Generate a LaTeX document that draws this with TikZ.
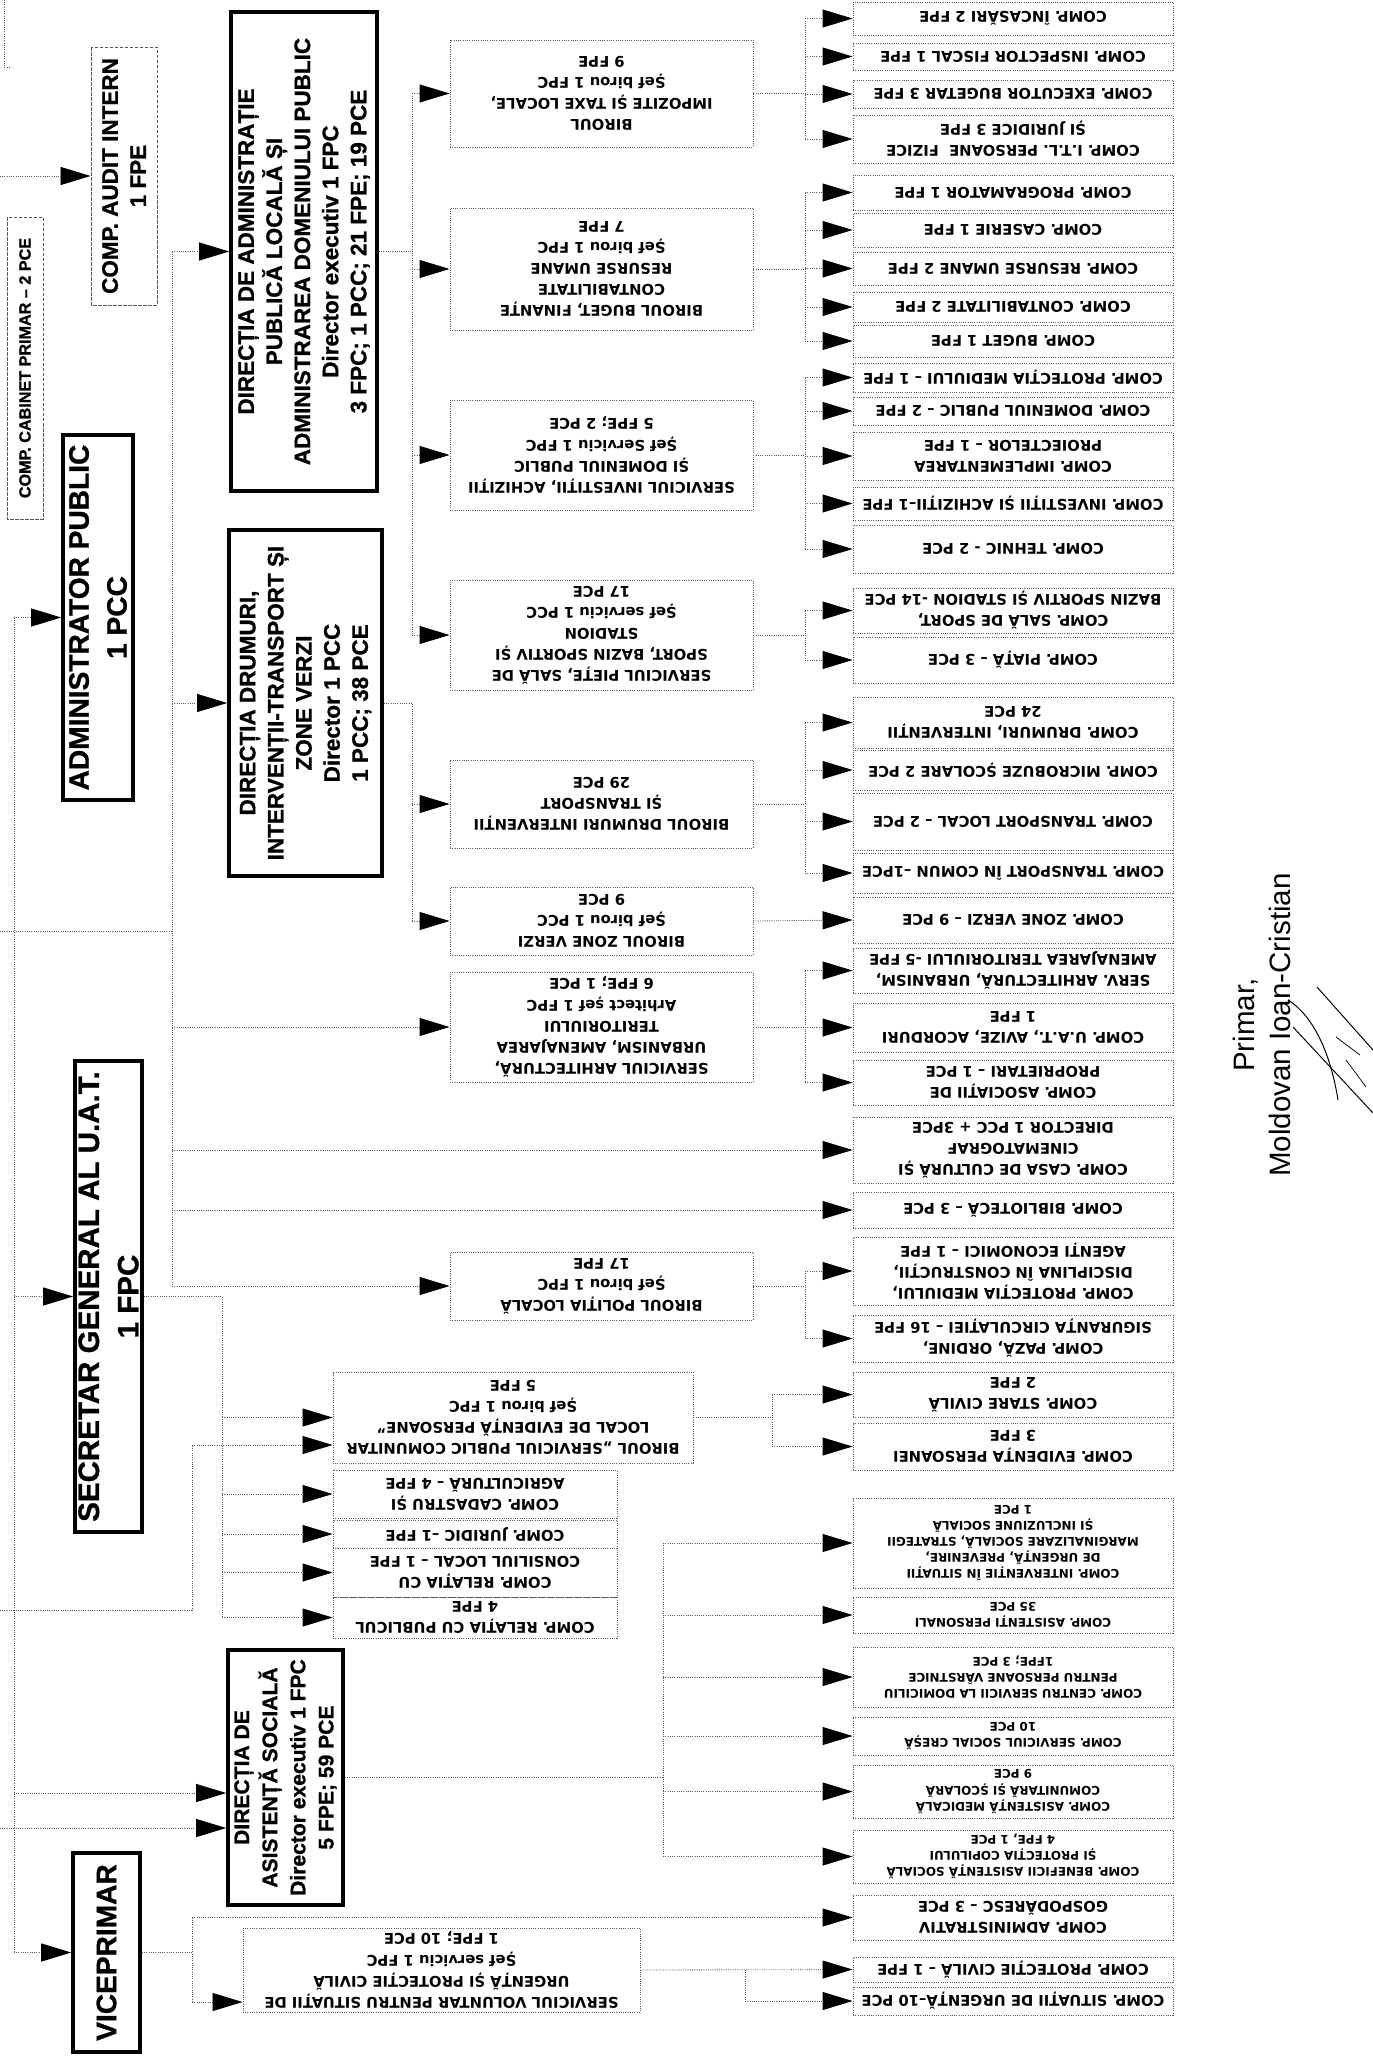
\documentclass[tikz,border=0pt]{standalone}
\usepackage{fontspec}
\setmainfont{Liberation Sans}
\newfontfamily\dejavu{DejaVu Sans}
\newfontfamily\heavy{Liberation Sans Bold}[FakeBold=1]
\usetikzlibrary{arrows.meta,positioning}

\begin{document}
\begin{tikzpicture}[x=0.25mm, y=-0.25mm,
    link/.style={densely dotted, line width=0.6pt, black!65},
    arr/.style={link, -{Triangle[length=7.5mm, width=4.5mm, color=black]}},
    comp/.style={draw=black!65, densely dotted, line width=0.6pt, rotate=180, align=center, inner sep=1pt,
        font=\dejavu\bfseries\fontsize{10.5}{15}\selectfont},
    social/.style={comp, font=\dejavu\bfseries\fontsize{8.5}{11.5}\selectfont},
    head/.style={draw, line width=0.9mm, rotate=90, align=center, inner sep=2pt,
        font=\heavy\fontsize{16}{20}\selectfont},
    big/.style={head, font=\heavy\fontsize{20}{27}\selectfont},
    dhead/.style={head, draw=black!65, densely dotted, line width=0.6pt}]
    \useasboundingbox (0,0) rectangle (1373,2060);

    % Left column: top level boxes
    \node[dhead, minimum width=64.5mm, minimum height=16.5mm] (audit) at (124,176) {COMP. AUDIT INTERN\\1 FPE};
    \node[dhead, font=\heavy\fontsize{11.5}{13}\selectfont, minimum width=75.5mm, minimum height=9mm] (cabinet) at (25,368) {COMP. CABINET PRIMAR – 2 PCE};
    \node[big, minimum width=91.25mm, minimum height=17.5mm] (admin) at (98,617.5) {ADMINISTRATOR PUBLIC\\1 PCC};
    \node[big, font=\heavy\fontsize{21}{28}\selectfont, minimum width=117.75mm, minimum height=16.75mm] (secretar) at (108.5,1296.5) {SECRETAR GENERAL AL U.A.T.\\1 FPC};
    \node[big, minimum width=49.75mm, minimum height=16.75mm] (viceprimar) at (106.5,1952.5) {VICEPRIMAR};

    % Directions
    \node[head, minimum width=119.75mm, minimum height=36.5mm] (diradmin) at (304,251.5) {DIRECȚIA DE ADMINISTRAȚIE\\PUBLICĂ LOCALĂ ȘI\\ADMINISTRAREA DOMENIULUI PUBLIC\\Director executiv 1 FPC\\3 FPC; 1 PCC; 21 FPE; 19 PCE};
    \node[head, minimum width=86.5mm, minimum height=38.25mm] (dirdrumuri) at (305.5,703) {DIRECȚIA DRUMURI,\\INTERVENȚII-TRANSPORT ȘI\\ZONE VERZI\\Director 1 PCC\\1 PCC; 38 PCE};
    \node[head, font=\heavy\fontsize{15}{20}\selectfont, minimum width=63.75mm, minimum height=28.75mm] (dirasist) at (285.5,1777.5) {DIRECȚIA DE\\ASISTENȚĂ SOCIALĂ\\Director executiv 1 FPC\\5 FPE; 59 PCE};

    % Middle column: birouri and servicii
    \node[comp, minimum width=75.75mm, minimum height=26.75mm] (birimpozite) at (601.5,93.5) {BIROUL\\IMPOZITE ȘI TAXE LOCALE,\\Șef birou 1 FPC\\9 FPE};
    \node[comp, minimum width=75.75mm, minimum height=30.5mm] (birbuget) at (601.5,269) {BIROUL BUGET, FINANȚE\\CONTABILITATE\\RESURSE UMANE\\Șef birou 1 FPC\\7 FPE};
    \node[comp, minimum width=75.75mm, minimum height=27.5mm] (servinvest) at (601.5,455) {SERVICIUL INVESTIȚII, ACHIZIȚII\\ȘI DOMENIUL PUBLIC\\Șef Serviciu 1 FPC\\5 FPE; 2 PCE};
    \node[comp, minimum width=75.75mm, minimum height=27.5mm] (servpiete) at (601.5,635) {SERVICIUL PIEȚE, SALĂ DE\\SPORT, BAZIN SPORTIV ȘI\\STADION\\Șef serviciu 1 PCC\\17 PCE};
    \node[comp, minimum width=75.75mm, minimum height=22mm] (birdrumuri) at (601.5,804) {BIROUL DRUMURI INTERVENȚII\\ȘI TRANSPORT\\29 PCE};
    \node[comp, minimum width=75.75mm, minimum height=17mm] (birverzi) at (601.5,921) {BIROUL ZONE VERZI\\Șef birou 1 PCC\\9 PCE};
    \node[comp, minimum width=75.75mm, minimum height=27.5mm] (servarhitect) at (601.5,1027) {SERVICIUL ARHITECTURĂ,\\URBANISM, AMENAJAREA\\TERITORIULUI\\Arhitect șef 1 FPC\\6 FPE; 1 PCE};
    \node[comp, minimum width=75.75mm, minimum height=17mm] (birpolitie) at (601.5,1286) {BIROUL POLIȚIA LOCALĂ\\Șef birou 1 FPC\\17 FPE};
    \node[comp, minimum width=90mm, minimum height=22.75mm] (birspc) at (513,1417.5) {BIROUL „SERVICIUL PUBLIC COMUNITAR\\LOCAL DE EVIDENȚĂ PERSOANE”\\Șef birou 1 FPC\\5 FPE};
    \node[comp, minimum width=71mm, minimum height=12mm] (cadastru) at (475,1494) {COMP. CADASTRU ȘI\\AGRICULTURĂ – 4 FPE};
    \node[comp, minimum width=71mm, minimum height=7mm] (juridic) at (475,1534) {COMP. JURIDIC –1 FPE};
    \node[comp, minimum width=71mm, minimum height=12.25mm] (relconsiliu) at (475,1572.5) {COMP. RELAȚIA CU\\CONSILIUL LOCAL – 1 FPE};
    \node[comp, minimum width=71mm, minimum height=10.25mm] (relpublic) at (475,1617.5) {COMP. RELAȚIA CU PUBLICUL\\4 FPE};
    \node[comp, minimum width=99.25mm, minimum height=21mm] (servvoluntar) at (441.5,1970) {SERVICIUL VOLUNTAR PENTRU SITUAȚII DE\\URGENȚĂ ȘI PROTECȚIE CIVILĂ\\Șef serviciu 1 FPC\\1 FPE; 10 PCE};

    % Right column: compartimente
    \node[comp, minimum width=80mm, minimum height=8.25mm] (incasari) at (1013,18.5) {COMP. ÎNCASĂRI 2 FPE};
    \node[comp, minimum width=80mm, minimum height=6.75mm] (fiscal) at (1013,56.5) {COMP. INSPECTOR FISCAL 1 FPE};
    \node[comp, minimum width=80mm, minimum height=7mm] (executor) at (1013,94) {COMP. EXECUTOR BUGETAR 3 FPE};
    \node[comp, minimum width=80mm, minimum height=12mm] (itl) at (1013,139) {COMP. I.T.L. PERSOANE\ \ FIZICE\\ȘI JURIDICE 3 FPE};
    \node[comp, minimum width=80mm, minimum height=8.75mm] (programator) at (1013,192.5) {COMP. PROGRAMATOR 1 FPE};
    \node[comp, minimum width=80mm, minimum height=8.5mm] (caserie) at (1013,230) {COMP. CASERIE 1 FPE};
    \node[comp, minimum width=80mm, minimum height=8.25mm] (resurse) at (1013,268.5) {COMP. RESURSE UMANE 2 FPE};
    \node[comp, minimum width=80mm, minimum height=7.5mm] (contab) at (1013,307) {COMP. CONTABILITATE 2 FPE};
    \node[comp, minimum width=80mm, minimum height=8mm] (buget) at (1013,341) {COMP. BUGET 1 FPE};
    \node[comp, minimum width=80mm, minimum height=7.25mm] (mediu) at (1013,377.5) {COMP. PROTECȚIA MEDIULUI – 1 FPE};
    \node[comp, minimum width=80mm, minimum height=7mm] (domeniu) at (1013,411) {COMP. DOMENIUL PUBLIC – 2 FPE};
    \node[comp, minimum width=80mm, minimum height=12mm] (implement) at (1013,456) {COMP. IMPLEMENTAREA\\PROIECTELOR – 1 FPE};
    \node[comp, minimum width=80mm, minimum height=8.25mm] (investitii) at (1013,503.5) {COMP. INVESTIȚII ȘI ACHIZIȚII–1 FPE};
    \node[comp, minimum width=80mm, minimum height=12mm] (tehnic) at (1013,549) {COMP. TEHNIC - 2 PCE};
    \node[comp, minimum width=80mm, minimum height=11.25mm] (sport) at (1013,610.5) {COMP. SALĂ DE SPORT,\\BAZIN SPORTIV ȘI STADION -14 PCE};
    \node[comp, minimum width=80mm, minimum height=11.5mm] (piata) at (1013,660) {COMP. PIAȚĂ – 3 PCE};
    \node[comp, minimum width=80mm, minimum height=12.75mm] (drumuri) at (1013,722.5) {COMP. DRUMURI, INTERVENȚII\\24 PCE};
    \node[comp, minimum width=80mm, minimum height=10mm] (microbuze) at (1013,770) {COMP. MICROBUZE ȘCOLARE 2 PCE};
    \node[comp, minimum width=80mm, minimum height=14.25mm] (translocal) at (1013,821.5) {COMP. TRANSPORT LOCAL – 2 PCE};
    \node[comp, minimum width=80mm, minimum height=10mm] (transcomun) at (1013,873) {COMP. TRANSPORT ÎN COMUN –1PCE};
    \node[comp, minimum width=80mm, minimum height=11.5mm] (verzi) at (1013,920) {COMP. ZONE VERZI – 9 PCE};
    \node[comp, minimum width=80mm, minimum height=11.25mm] (arhitect) at (1013,970.5) {SERV. ARHITECTURĂ, URBANISM,\\AMENAJAREA TERITORIULUI -5 FPE};
    \node[comp, minimum width=80mm, minimum height=12.25mm] (avize) at (1013,1027.5) {COMP. U.A.T., AVIZE, ACORDURI\\1 FPE};
    \node[comp, minimum width=80mm, minimum height=11.25mm] (asociatii) at (1013,1082.5) {COMP. ASOCIAȚII DE\\PROPRIETARI – 1 PCE};
    \node[comp, minimum width=80mm, minimum height=16.5mm] (cultura) at (1013,1150) {COMP. CASA DE CULTURĂ ȘI\\CINEMATOGRAF\\DIRECTOR 1 PCC + 3PCE};
    \node[comp, minimum width=80mm, minimum height=9mm] (biblioteca) at (1013,1210) {COMP. BIBLIOTECĂ – 3 PCE};
    \node[comp, minimum width=80mm, minimum height=17mm] (disciplina) at (1013,1271) {COMP. PROTECȚIA MEDIULUI,\\DISCIPLINA ÎN CONSTRUCȚII,\\AGENȚI ECONOMICI – 1 FPE};
    \node[comp, minimum width=80mm, minimum height=11.75mm] (paza) at (1013,1338.5) {COMP. PAZĂ, ORDINE,\\SIGURANȚA CIRCULAȚIEI – 16 FPE};
    \node[comp, minimum width=80mm, minimum height=11.25mm] (starecivila) at (1013,1394.5) {COMP. STARE CIVILĂ\\2 FPE};
    \node[comp, minimum width=80mm, minimum height=11.75mm] (evidenta) at (1013,1446.5) {COMP. EVIDENȚA PERSOANEI\\3 FPE};
    \node[social, minimum width=80mm, minimum height=22.5mm] (interventie) at (1013,1543) {COMP. INTERVENȚIE ÎN SITUAȚII\\DE URGENȚĂ, PREVENIRE,\\MARGINALIZARE SOCIALĂ, STRATEGII\\ȘI INCLUZIUNE SOCIALĂ\\1 PCE};
    \node[social, minimum width=80mm, minimum height=9mm] (asistenti) at (1013,1615) {COMP. ASISTENȚI PERSONALI\\35 PCE};
    \node[social, minimum width=80mm, minimum height=15mm] (varstnici) at (1013,1677) {COMP. CENTRU SERVICII LA DOMICILIU\\PENTRU PERSOANE VÂRSTNICE\\1FPE; 3 PCE};
    \node[social, minimum width=80mm, minimum height=9.5mm] (cresa) at (1013,1736) {COMP. SERVICIUL SOCIAL CREȘĂ\\10 PCE};
    \node[social, minimum width=80mm, minimum height=13.25mm] (medicala) at (1013,1791.5) {COMP. ASISTENȚĂ MEDICALĂ\\COMUNITARĂ ȘI ȘCOLARĂ\\9 PCE};
    \node[social, minimum width=80mm, minimum height=13.25mm] (beneficii) at (1013,1856.5) {COMP. BENEFICII ASISTENȚĂ SOCIALĂ\\ȘI PROTECȚIA COPILULUI\\4 FPE, 1 PCE};
    \node[comp, minimum width=80mm, minimum height=11.25mm] (gospodaresc) at (1013,1917.5) {COMP. ADMINISTRATIV\\GOSPODĂRESC – 3 PCE};
    \node[comp, minimum width=80mm, minimum height=6.25mm] (protcivila) at (1013,1969.5) {COMP. PROTECȚIE CIVILĂ – 1 FPE};
    \node[comp, minimum width=80mm, minimum height=7mm] (urgenta) at (1013,2001) {COMP. SITUAȚII DE URGENȚĂ–10 PCE};

    % Entry points and junctions
    \coordinate (incabinet) at (4,0);
    \coordinate (kcabinet) at (4,67);
    \coordinate (inprimar) at (0,931);
    \coordinate (spine) at (172,931);
    \coordinate (trunk) at (14,931);
    \coordinate (inaudit) at (0,176);
    \coordinate (inspc) at (0,1610);
    \coordinate (kspc) at (192,1445);
    \coordinate (asist1) at (14,1793);
    \coordinate (inasist) at (0,1828);

    % Lines from the primar
    \draw[link] (incabinet) -- (kcabinet) -- ++(6,0);
    \draw[link] (inprimar) -- (spine);
    \draw[arr] (inaudit) -- (audit.north);
    \draw[link] (trunk |- admin.north) -- (trunk |- viceprimar.north);
    \draw[arr] (trunk |- admin.north) -- (admin.north);
    \draw[arr] (trunk |- secretar.north) -- (secretar.north);
    \draw[arr] (asist1) -- (asist1 -| dirasist.north);
    \draw[arr] (inasist) -- (inasist -| dirasist.north);
    \draw[arr] (trunk |- viceprimar.north) -- (viceprimar.north);

    % Spine towards directions and services
    \draw[link] (spine |- diradmin.north) -- (spine |- birpolitie.east);
    \draw[arr] (spine |- diradmin.north) -- (diradmin.north);
    \draw[arr] (spine |- dirdrumuri.north) -- (dirdrumuri.north);
    \foreach \n in {servarhitect,cultura,biblioteca,birpolitie}
        \draw[arr] (spine |- \n.east) -- (\n.east);

    % Directia de administratie
    \coordinate (vda) at (412,251.5);
    \draw[link] (diradmin.south) -- (vda);
    \draw[link] (vda |- birimpozite.east) -- (vda |- servpiete.east);
    \foreach \n in {birimpozite,birbuget,servinvest,servpiete}
        \draw[arr] (vda |- \n.east) -- (\n.east);

    % Directia drumuri
    \coordinate (vdd) at (412,703);
    \draw[link] (dirdrumuri.south) -- (vdd) -- (vdd |- birverzi.east);
    \foreach \n in {birdrumuri,birverzi}
        \draw[arr] (vdd |- \n.east) -- (\n.east);

    % Birouri to compartimente
    \coordinate (va) at (805,93.5);
    \draw[link] (birimpozite.west) -- (va);
    \draw[link] (va |- incasari.east) -- (va |- itl.east);
    \foreach \n in {incasari,fiscal,executor,itl}
        \draw[arr] (va |- \n.east) -- (\n.east);

    \coordinate (vb) at (805,269);
    \draw[link] (birbuget.west) -- (vb);
    \draw[link] (vb |- programator.east) -- (vb |- buget.east);
    \foreach \n in {programator,caserie,resurse,contab,buget}
        \draw[arr] (vb |- \n.east) -- (\n.east);

    \coordinate (vc) at (805,455);
    \draw[link] (servinvest.west) -- (vc);
    \draw[link] (vc |- mediu.east) -- (vc |- tehnic.east);
    \foreach \n in {mediu,domeniu,implement,investitii,tehnic}
        \draw[arr] (vc |- \n.east) -- (\n.east);

    \coordinate (vd) at (805,635);
    \draw[link] (servpiete.west) -- (vd);
    \draw[link] (vd |- sport.east) -- (vd |- piata.east);
    \foreach \n in {sport,piata}
        \draw[arr] (vd |- \n.east) -- (\n.east);

    \coordinate (ve) at (805,804);
    \draw[link] (birdrumuri.west) -- (ve);
    \draw[link] (ve |- drumuri.east) -- (ve |- transcomun.east);
    \foreach \n in {drumuri,microbuze,translocal,transcomun}
        \draw[arr] (ve |- \n.east) -- (\n.east);

    \draw[arr] (birverzi.west) -- (verzi.east);

    \coordinate (vg) at (805,1027);
    \draw[link] (servarhitect.west) -- (vg);
    \draw[link] (vg |- arhitect.east) -- (vg |- asociatii.east);
    \foreach \n in {arhitect,avize,asociatii}
        \draw[arr] (vg |- \n.east) -- (\n.east);

    \coordinate (vh) at (805,1286);
    \draw[link] (birpolitie.west) -- (vh);
    \draw[link] (vh |- disciplina.east) -- (vh |- paza.east);
    \foreach \n in {disciplina,paza}
        \draw[arr] (vh |- \n.east) -- (\n.east);

    \coordinate (vi) at (772,1417.5);
    \draw[link] (birspc.west) -- (vi);
    \draw[link] (vi |- starecivila.east) -- (vi |- evidenta.east);
    \foreach \n in {starecivila,evidenta}
        \draw[arr] (vi |- \n.east) -- (\n.east);

    % Secretar general
    \coordinate (vs) at (222,1296.5);
    \draw[link] (secretar.south) -- (vs) -- (vs |- relpublic.east);
    \foreach \n in {birspc,cadastru,juridic,relconsiliu,relpublic}
        \draw[arr] (vs |- \n.east) -- (\n.east);
    \draw[link] (inspc) -| (kspc);
    \draw[arr] (kspc) -- (kspc -| birspc.east);

    % Directia de asistenta sociala
    \coordinate (vas) at (663,1777.5);
    \draw[link] (dirasist.south) -- (vas);
    \draw[link] (vas |- interventie.east) -- (vas |- beneficii.east);
    \foreach \n in {interventie,asistenti,varstnici,cresa,medicala,beneficii}
        \draw[arr] (vas |- \n.east) -- (\n.east);

    % Viceprimar
    \coordinate (vv) at (192,1952.5);
    \coordinate (vsv) at (192,2002);
    \draw[link] (viceprimar.south) -- (vv);
    \draw[link] (vv |- gospodaresc.east) -- (vsv);
    \draw[arr] (vv |- gospodaresc.east) -- (gospodaresc.east);
    \draw[arr] (vsv) -- (vsv -| servvoluntar.east);
    \coordinate (vp) at (745,1969.5);
    \draw[arr] (servvoluntar.west) -- (protcivila.east);
    \draw[arr] (vp) |- (urgenta.east);

    % Signature
    \node[rotate=90, align=center, font=\fontsize{21}{25}\selectfont] (primar) at (1262,1025) {Primar,\\Moldovan Ioan-Cristian};
    \draw[line width=0.7pt] (1317,987) -- (1373,1050);
    \draw[line width=0.7pt] (1288,1000) .. controls (1312,1015) and (1330,1050) .. (1338,1100);
    \draw[line width=0.7pt] (1293,1027) -- (1373,1113);
    \draw[line width=0.5pt] (1336,1037) -- (1360,1055) (1346,1060) -- (1366,1087);
\end{tikzpicture}
\end{document}
